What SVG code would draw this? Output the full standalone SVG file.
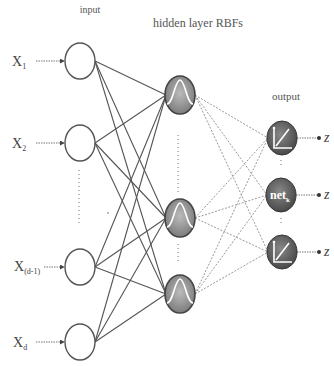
<svg xmlns="http://www.w3.org/2000/svg" width="334" height="366" viewBox="0 0 334 366">
<defs>
<style>
.lbl{font-family:"Liberation Serif",serif;fill:#555;}
.x{font-family:"Liberation Serif",serif;fill:#444;font-size:14px;}
.sub{font-size:8px;}
.ih{stroke:#555;stroke-width:1.1;fill:none;}
.ho{stroke:#999;stroke-width:1;stroke-dasharray:2 1.5;fill:none;}
.arr{stroke:#777;stroke-width:1;stroke-dasharray:1.5 1;fill:none;}
.inp{fill:#fff;stroke:#555;stroke-width:1.4;}
.hid{fill:url(#hg);stroke:#444;stroke-width:1.6;}
.out{fill:url(#og);stroke:#333;stroke-width:1;}
.dots{stroke:#777;stroke-width:1;stroke-dasharray:1 3;fill:none;}
.wl{stroke:#fff;stroke-width:1.6;fill:none;}
</style>
<radialGradient id="hg" cx="50%" cy="45%" r="60%">
<stop offset="0" stop-color="#bbb"/>
<stop offset="1" stop-color="#777"/>
</radialGradient>
<radialGradient id="og" cx="45%" cy="40%" r="65%">
<stop offset="0" stop-color="#888"/>
<stop offset="1" stop-color="#444"/>
</radialGradient>
<marker id="ah" viewBox="0 0 6 6" refX="5" refY="3" markerWidth="5" markerHeight="5" orient="auto">
<path d="M0,0 L6,3 L0,6 z" fill="#444"/>
</marker>
<marker id="dot" viewBox="0 0 6 6" refX="3" refY="3" markerWidth="4" markerHeight="4">
<circle cx="3" cy="3" r="3" fill="#333"/>
</marker>
</defs>
<rect width="334" height="366" fill="#fff"/>
<text class="lbl" x="90" y="13" font-size="10" text-anchor="middle">input</text>
<text class="lbl" x="198" y="27" font-size="12" text-anchor="middle">hidden layer RBFs</text>
<text class="lbl" x="286" y="100" font-size="11" text-anchor="middle">output</text>
<g id="connectors">
<g class="ih">
<line x1="95" y1="61" x2="166" y2="95"/><line x1="95" y1="61" x2="166" y2="218"/><line x1="95" y1="61" x2="166" y2="294"/>
<line x1="95" y1="143" x2="166" y2="95"/><line x1="95" y1="143" x2="166" y2="218"/><line x1="95" y1="143" x2="166" y2="294"/>
<line x1="95" y1="267" x2="166" y2="95"/><line x1="95" y1="267" x2="166" y2="218"/><line x1="95" y1="267" x2="166" y2="294"/>
<line x1="95" y1="342" x2="166" y2="95"/><line x1="95" y1="342" x2="166" y2="218"/><line x1="95" y1="342" x2="166" y2="294"/>
</g>
<g class="ho">
<line x1="195" y1="95" x2="268" y2="138"/><line x1="195" y1="95" x2="267" y2="195"/><line x1="195" y1="95" x2="268" y2="252"/>
<line x1="195" y1="218" x2="268" y2="138"/><line x1="195" y1="218" x2="267" y2="195"/><line x1="195" y1="218" x2="268" y2="252"/>
<line x1="195" y1="294" x2="268" y2="138"/><line x1="195" y1="294" x2="267" y2="195"/><line x1="195" y1="294" x2="268" y2="252"/>
</g>
<g class="arr" marker-end="url(#ah)">
<line x1="36" y1="61" x2="64" y2="61"/><line x1="36" y1="143" x2="64" y2="143"/>
<line x1="44" y1="267" x2="64" y2="267"/><line x1="36" y1="342" x2="64" y2="342"/>
</g>
<g class="arr" marker-end="url(#dot)">
<line x1="297" y1="138" x2="319" y2="138"/><line x1="296" y1="195" x2="319" y2="195"/><line x1="297" y1="252" x2="319" y2="252"/>
</g>
</g>
<g id="dots">
<line class="dots" x1="79" y1="170" x2="79" y2="224"/>
<circle cx="108" cy="213" r="0.8" fill="#666"/>
<line class="dots" x1="178" y1="135" x2="178" y2="192"/>
<line class="dots" x1="178" y1="244" x2="178" y2="264"/>
<line class="dots" x1="281" y1="160" x2="281" y2="168"/>
<line class="dots" x1="281" y1="218" x2="281" y2="226"/>
</g>
<g id="x1"><ellipse class="inp" cx="80" cy="61" rx="15" ry="18"/><text class="x" x="12" y="66">X<tspan class="sub" dy="3">1</tspan></text></g>
<g id="x2"><ellipse class="inp" cx="80" cy="143" rx="15" ry="18"/><text class="x" x="12" y="148">X<tspan class="sub" dy="3">2</tspan></text></g>
<g id="x3"><ellipse class="inp" cx="80" cy="267" rx="15" ry="18"/><text class="x" x="14" y="271">X<tspan class="sub" dy="3">(d-1)</tspan></text></g>
<g id="x4"><ellipse class="inp" cx="80" cy="342" rx="15" ry="18"/><text class="x" x="13" y="347">X<tspan class="sub" dy="3">d</tspan></text></g>
<g id="h1"><ellipse class="hid" cx="180" cy="95" rx="15" ry="19"/><path class="wl" d="M167,104 C173,104 175,80 180,80 C185,80 187,104 193,104"/></g>
<g id="h2"><ellipse class="hid" cx="180" cy="218" rx="15" ry="19"/><path class="wl" d="M167,227 C173,227 175,203 180,203 C185,203 187,227 193,227"/></g>
<g id="h3"><ellipse class="hid" cx="180" cy="294" rx="15" ry="19"/><path class="wl" d="M167,303 C173,303 175,279 180,279 C185,279 187,303 193,303"/></g>
<g id="o1"><ellipse class="out" cx="282" cy="138" rx="15" ry="17"/><path class="wl" d="M274,128 V148 H292 M276,146 L289,129" stroke-width="1.2"/><circle cx="274" cy="128" r="1.3" fill="#fff"/></g>
<g id="o2"><ellipse class="out" cx="281" cy="195" rx="15" ry="17"/><text x="280" y="199" font-family="Liberation Serif,serif" font-size="12" font-weight="bold" fill="#fff" text-anchor="middle">net<tspan font-size="7" dy="3">k</tspan></text></g>
<g id="o3"><ellipse class="out" cx="282" cy="252" rx="15" ry="17"/><path class="wl" d="M274,242 V262 H292 M276,260 L289,243" stroke-width="1.2"/><circle cx="274" cy="242" r="1.3" fill="#fff"/></g>
<g id="zl">
<text class="x" x="324" y="142" font-style="italic">z</text><text class="x" x="324" y="199" font-style="italic">z</text><text class="x" x="324" y="256" font-style="italic">z</text>
</g>
</svg>
